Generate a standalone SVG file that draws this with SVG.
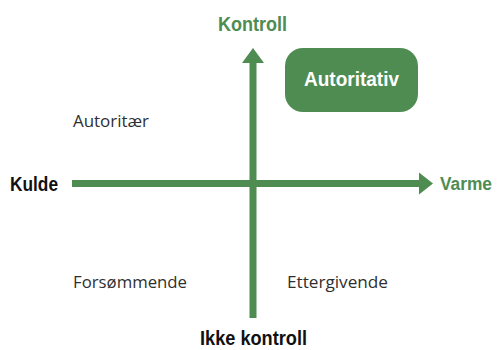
<svg xmlns="http://www.w3.org/2000/svg" width="498" height="350" viewBox="0 0 498 350">
<defs>
<style>
.axis{stroke:#4e8c52;stroke-width:7;fill:none}
.head{fill:#4e8c52}
.lbl{font-family:"Open Sans","Liberation Sans",sans-serif;font-size:16px;fill:#2f2f2f}
.bold{font-family:"Liberation Sans",Arial,sans-serif;font-weight:bold;font-size:20px}
.green{fill:#4e8c52}
.black{fill:#111}
</style>
</defs>
<rect width="498" height="350" fill="#fff"/>
<g id="connectors">
<line class="axis" x1="253" y1="62" x2="253" y2="318"/>
<polygon class="head" points="253,48 242,63 264,63"/>
<line class="axis" x1="72" y1="183.5" x2="420" y2="183.5"/>
<polygon class="head" points="433,183.5 419,172.5 419,194.5"/>
</g>
<g id="kontroll"><text class="bold green" x="218" y="31" textLength="69" lengthAdjust="spacingAndGlyphs">Kontroll</text></g>
<g id="ikke-kontroll"><text class="bold black" x="200" y="345" textLength="107" lengthAdjust="spacingAndGlyphs">Ikke kontroll</text></g>
<g id="kulde"><text class="bold black" x="10" y="191" textLength="48" lengthAdjust="spacingAndGlyphs">Kulde</text></g>
<g id="varme"><text class="bold green" x="440" y="190" style="font-size:17.5px" textLength="52" lengthAdjust="spacingAndGlyphs">Varme</text></g>
<g id="autoritativ">
<rect x="285" y="48" width="133" height="64" rx="18" fill="#4e8c52"/>
<text class="bold" fill="#fff" x="304" y="86" textLength="95" lengthAdjust="spacingAndGlyphs">Autoritativ</text>
</g>
<g id="autoritaer"><text class="lbl" x="73" y="127" textLength="76" lengthAdjust="spacingAndGlyphs">Autoritær</text></g>
<g id="forsommende"><text class="lbl" x="73" y="288" textLength="114" lengthAdjust="spacingAndGlyphs">Forsømmende</text></g>
<g id="ettergivende"><text class="lbl" x="287" y="288" textLength="101" lengthAdjust="spacingAndGlyphs">Ettergivende</text></g>
</svg>
